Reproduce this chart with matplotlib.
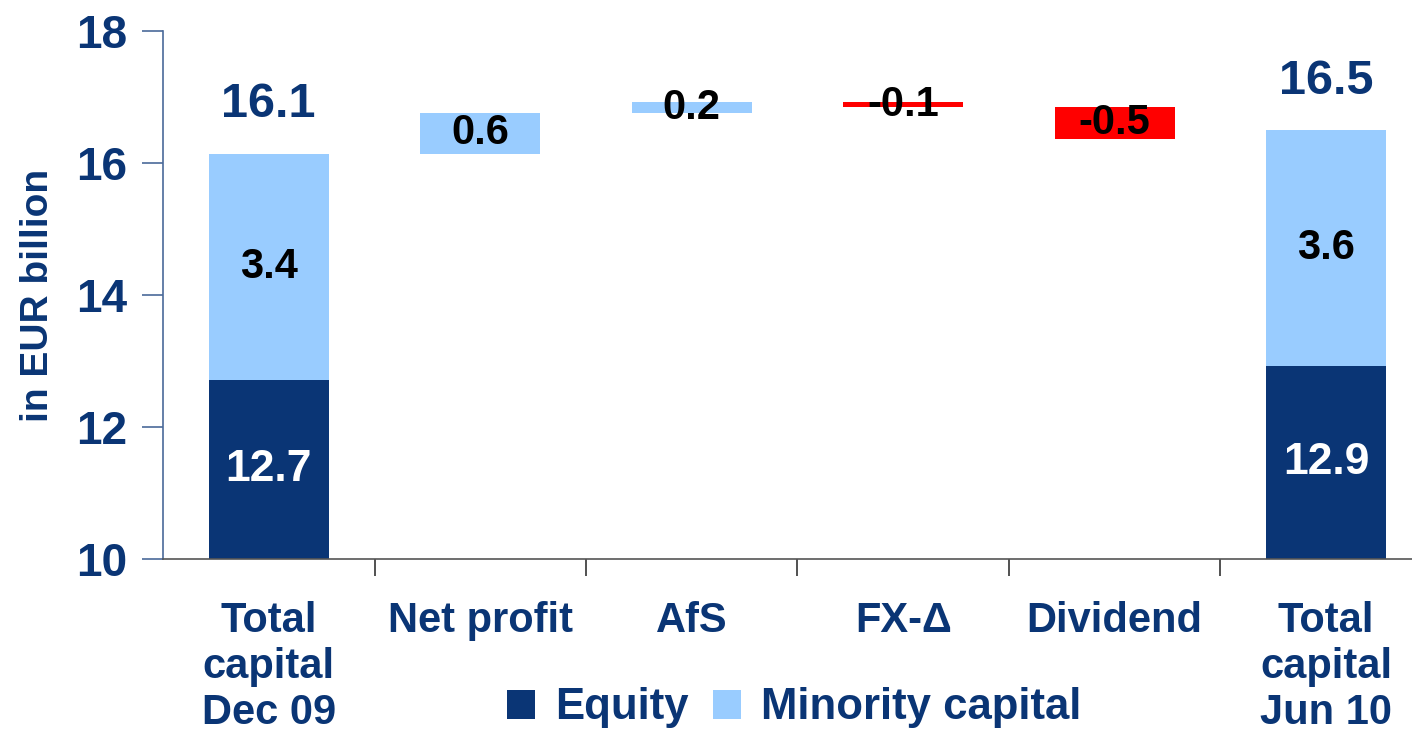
import matplotlib.pyplot as plt
import numpy as np

plt.rcParams['font.family'] = ['Liberation Sans', 'DejaVu Sans']
plt.rcParams['font.weight'] = 'bold'

# data (EUR billion)
categories = ['Total\ncapital\nDec 09', 'Net profit', 'AfS', 'FX-\u0394', 'Dividend', 'Total\ncapital\nJun 10']
equity = [12.71, 12.92]          # start / end
minority = [3.43, 3.58]
deltas = [0.62, 0.16, -0.07, -0.48]
delta_labels = ['0.6', '0.2', '-0.1', '-0.5']
total_labels = ['16.1', '16.5']
equity_labels = ['12.7', '12.9']
minority_labels = ['3.4', '3.6']

NAVY = '#0A3575'
LIGHT = '#99CCFF'
RED = '#FF0000'

fig = plt.figure(figsize=(14.12, 7.34), dpi=100)
ax = fig.add_axes([163/1412, 175/734, 1269/1412, 528/734])

x = np.arange(len(categories))
w = 0.567

# stacked totals
ends = [0, len(categories) - 1]
for k, i in enumerate(ends):
    ax.bar(i, equity[k], w, bottom=0, color=NAVY, label='Equity' if k == 0 else None)
    ax.bar(i, minority[k], w, bottom=equity[k], color=LIGHT, label='Minority capital' if k == 0 else None)
    ax.text(i, equity[k] / 2 + 5, equity_labels[k], ha='center', va='center',
            color='white', fontsize=32, fontweight='bold')
    ax.text(i, equity[k] + minority[k] / 2, minority_labels[k], ha='center', va='center',
            color='black', fontsize=30, fontweight='bold')
    ax.text(i, equity[k] + minority[k] + 0.55, total_labels[k], ha='center', va='baseline',
            color=NAVY, fontsize=35, fontweight='bold')

# floating bars
level = equity[0] + minority[0]
for j, d in enumerate(deltas):
    i = j + 1
    col = LIGHT if d > 0 else RED
    ax.bar(i, d, w, bottom=level, color=col)
    ax.text(i, level + d / 2, delta_labels[j], ha='center', va='center',
            color='black', fontsize=30, fontweight='bold')
    level += d

ax.set_ylim(10, 18)
ax.set_xlim(-0.5, len(categories) - 0.5)
ax.set_yticks([10, 12, 14, 16, 18])
ax.tick_params(axis='y', direction='out', length=15, width=1.2, color='#4A6A9A',
               labelsize=33, labelcolor=NAVY, pad=11)
ax.set_xticks(x)
ax.set_xticklabels(categories, fontsize=30, color=NAVY, fontweight='bold', linespacing=1.2)
ax.tick_params(axis='x', length=0, pad=30)
ax.set_xticks(x[:-1] + 0.5, minor=True)
ax.tick_params(axis='x', which='minor', direction='out', length=12, width=1.2, color='#333333')
for lab in ax.get_yticklabels():
    lab.set_fontweight('bold')

ax.spines['top'].set_visible(False)
ax.spines['right'].set_visible(False)
ax.spines['left'].set_color('#4A6A9A')
ax.spines['left'].set_linewidth(1.2)
ax.spines['bottom'].set_color('#555555')
ax.spines['bottom'].set_linewidth(1.2)

ax.set_ylabel('in EUR billion', fontsize=28, color=NAVY, fontweight='bold', labelpad=14)

fig.legend(loc='center', bbox_to_anchor=(794/1412, 26/734), ncol=2, frameon=False,
           prop={'size': 31.5, 'weight': 'bold'}, labelcolor=NAVY,
           handlelength=0.65, handleheight=0.65, handletextpad=0.45, columnspacing=0.55)

fig.savefig('out.png', dpi=100)
